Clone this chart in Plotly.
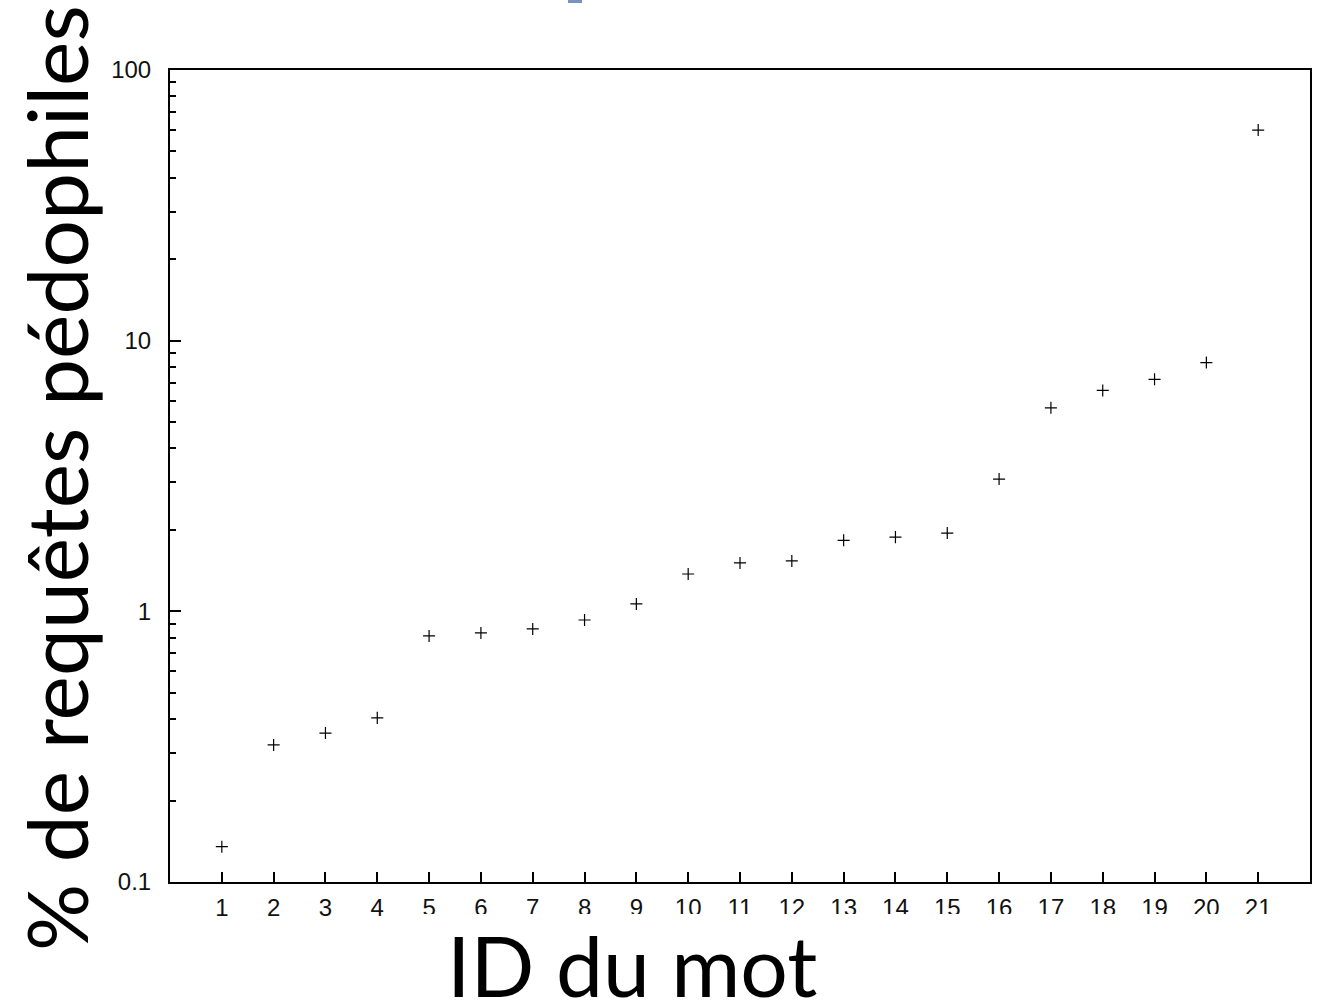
import plotly.graph_objects as go

word_ids = list(range(1, 22))
pct_pedo = [0.135, 0.321, 0.355, 0.404, 0.811, 0.832, 0.861, 0.929, 1.065, 1.374,
            1.509, 1.535, 1.83, 1.88, 1.946, 3.08, 5.65, 6.55, 7.2, 8.3, 60.0]
x_tick_labels = [str(i) for i in word_ids]
y_tick_vals = [0.1, 1, 10, 100]
y_tick_labels = ["0.1", "1", "10", "100"]

W, H = 1323, 1005
L, R, T, B = 170, 13, 70, 123
pw, ph = W - L - R, H - T - B

def px_x(p):
    return (p - L) / pw

def px_y(p):
    return (H - B - p) / ph

fig = go.Figure()
fig.add_trace(go.Scatter(
    x=word_ids, y=pct_pedo, mode="markers",
    marker=dict(symbol="cross-thin", size=8.6, line=dict(color="black", width=1.2)),
    showlegend=False, hoverinfo="x+y",
))

tick_font = dict(family="Liberation Sans, Arial, sans-serif", size=24, color="#111")
title_font = dict(family="Lato, 'Open Sans', sans-serif", size=84, color="black")

fig.update_xaxes(
    range=[0, 22], tickmode="array", tickvals=word_ids, ticktext=x_tick_labels,
    ticks="inside", ticklen=10, tickwidth=1.5, tickcolor="black",
    showline=True, linecolor="black", linewidth=2, mirror=True,
    showgrid=False, zeroline=False, tickfont=tick_font, ticklabelstandoff=3,
)
fig.update_yaxes(
    type="log", range=[-1, 2], tickmode="array", tickvals=y_tick_vals, ticktext=y_tick_labels,
    ticks="inside", ticklen=11, tickwidth=1.5, tickcolor="black",
    minor=dict(ticks="inside", ticklen=6, tickwidth=1.5, tickcolor="black", dtick="D1", showgrid=False),
    showline=True, linecolor="black", linewidth=2, mirror=True,
    showgrid=False, zeroline=False, tickfont=tick_font, ticklabelstandoff=12,
)

fig.update_layout(
    width=W, height=H, margin=dict(l=L, r=R, t=T, b=B, autoexpand=False),
    paper_bgcolor="white", plot_bgcolor="white",
    shapes=[
        dict(type="rect", xref="paper", yref="paper", layer="above",
             x0=px_x(405), x1=px_x(1323), y0=px_y(932), y1=px_y(914),
             fillcolor="white", line=dict(width=0)),
        dict(type="rect", xref="paper", yref="paper", layer="above",
             x0=px_x(568), x1=px_x(582), y0=px_y(3), y1=px_y(0),
             fillcolor="#7b93b8", line=dict(width=0)),
    ],
    annotations=[
        dict(text="ID du mot", xref="paper", yref="paper", x=px_x(632), y=px_y(964),
             xanchor="center", yanchor="middle", showarrow=False, font=title_font),
        dict(text="% de requêtes pédophiles", xref="paper", yref="paper",
             x=px_x(55), y=px_y(478), xanchor="center", yanchor="middle",
             textangle=-90, showarrow=False, font=title_font),
    ],
)

fig.write_html("out.html", config={"displayModeBar": False},
               post_script="document.body.style.margin='0';document.body.style.overflow='hidden';")
